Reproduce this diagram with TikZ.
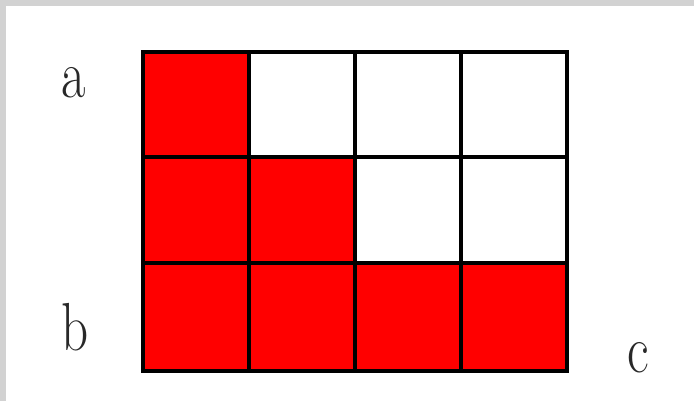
\documentclass[tikz,border=0pt]{standalone}
\definecolor{framegray}{RGB}{210,210,210}
\definecolor{cellred}{RGB}{255,0,0}
\definecolor{lblgray}{RGB}{40,40,40}
\begin{document}
\begin{tikzpicture}[x=1pt,y=-1pt,
  cell/.style={fill=cellred,draw=none},
  gridline/.style={line width=3.8pt,black},
  lbl/.style={inner sep=0pt,anchor=base,text=lblgray,font=\fontsize{68}{74}\selectfont,xscale=0.78}]
\useasboundingbox (0,0) rectangle (694,401);
\fill[white] (0,0) rectangle (694,401);
\fill[framegray] (0,0) rectangle (694,6);
\fill[framegray] (0,0) rectangle (6,401);
% red cells
\fill[cell] (143,52) rectangle (249,157);
\fill[cell] (143,157) rectangle (355,263);
\fill[cell] (143,263) rectangle (567,371);
% grid
\draw[gridline] (143,52) rectangle (567,371);
\foreach \x in {249,355,461} \draw[gridline] (\x,52) -- (\x,371);
\foreach \y in {157,263} \draw[gridline] (143,\y) -- (567,\y);
% labels
\node[lbl] (a) at (74,98) {a};
\node[lbl] (b) at (75,350) {b};
\node[lbl] (c) at (638,372) {c};
\end{tikzpicture}
\end{document}
